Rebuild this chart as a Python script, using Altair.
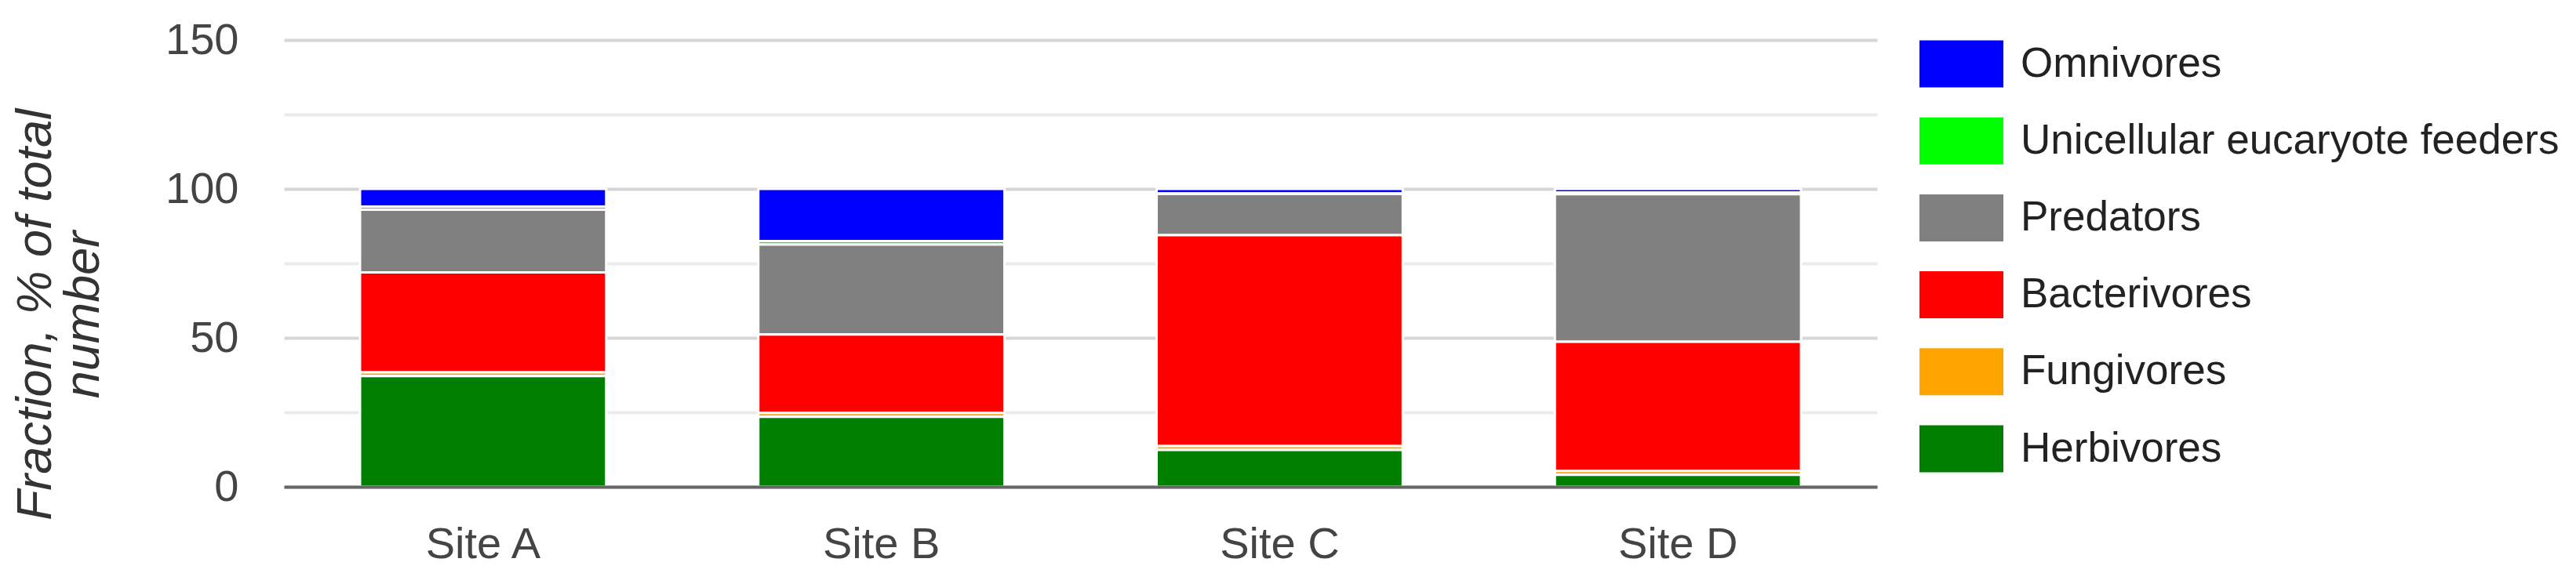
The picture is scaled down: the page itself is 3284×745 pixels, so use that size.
import altair as alt
import pandas as pd

sites = ["Site A", "Site B", "Site C", "Site D"]
groups = ["Omnivores", "Unicellular eucaryote feeders", "Predators",
          "Bacterivores", "Fungivores", "Herbivores"]
colors = ["#0000ff", "#00ff00", "#808080", "#ff0000", "#ffa500", "#008000"]

herbivores = [37.2, 23.5, 12.4, 4.0]
fungivores = [1.2, 1.3, 1.3, 1.3]
bacterivores = [33.6, 26.3, 70.8, 43.4]
predators = [21.0, 30.2, 13.8, 49.5]
unicellular = [1.1, 1.2, 0.2, 0.6]
omnivores = [5.9, 17.5, 1.5, 1.2]

y_ticks = [0, 25, 50, 75, 100, 125, 150]

series = [omnivores, unicellular, predators, bacterivores, fungivores, herbivores]
rows = []
for rank, (g, vals) in zip(range(5, -1, -1), zip(groups, series)):
    for s, v in zip(sites, vals):
        rows.append({"site": s, "group": g, "value": v, "rank": rank})
df = pd.DataFrame(rows)

FONT = "Liberation Sans, Arial, sans-serif"

chart = alt.Chart(df).mark_bar(stroke="white", strokeWidth=3).encode(
    x=alt.X(
        "site:N", sort=sites,
        scale=alt.Scale(paddingInner=0.382, paddingOuter=0.191),
        axis=alt.Axis(title=None, labelAngle=0, ticks=False, tickSize=0, grid=False,
                      domain=True, domainColor="#666666", domainWidth=4, zindex=1,
                      labelFontSize=56, labelColor="#444444", labelFont=FONT,
                      labelPadding=46),
    ),
    y=alt.Y(
        "value:Q", stack="zero",
        scale=alt.Scale(domain=[0, 150], nice=False),
        axis=alt.Axis(
            values=y_ticks,
            labelExpr="datum.value % 50 === 0 ? datum.label : ''",
            domain=False, ticks=False, tickSize=0,
            gridColor={"condition": {"test": "datum.value % 50 === 0", "value": "#d6d6d6"},
                       "value": "#ebebeb"},
            gridWidth=4,
            labelFontSize=56, labelColor="#444444", labelFont=FONT, labelPadding=58,
            title=["Fraction, % of total", "number"],
            titleFont=FONT, titleFontStyle="italic",
            titleFontWeight="normal", titleFontSize=63, titleColor="#333333",
            titleAngle=270, titleAlign="center", titleBaseline="alphabetic",
            titleLineHeight=61, titleX=-298, titleY=350,
        ),
    ),
    color=alt.Color(
        "group:N",
        scale=alt.Scale(domain=groups, range=colors),
        legend=alt.Legend(
            title=None, orient="none", legendX=2085, legendY=-23,
            symbolType="M-1,-0.561H1V0.561H-1Z", symbolSize=11449,
            symbolStrokeWidth=0, symbolOpacity=1,
            labelFontSize=53, labelFont=FONT, labelColor="#222222",
            labelOffset=22, rowPadding=14.2, padding=0, labelLimit=1000,
        ),
    ),
    order=alt.Order("rank:Q", sort="ascending"),
).properties(
    width=2031, height=570,
    autosize=alt.AutoSizeParams(type="none"),
    padding={"left": 354, "top": 43, "right": 883, "bottom": 108},
).configure_view(strokeWidth=0)

chart.save("out.html", embed_options={"renderer": "svg", "actions": False})
